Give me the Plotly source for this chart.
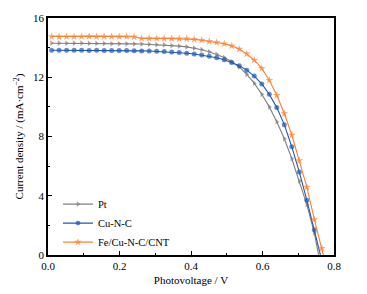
import plotly.graph_objects as go

voltage = [0.010, 0.031, 0.052, 0.073, 0.094, 0.115, 0.136, 0.157, 0.178, 0.199,
           0.220, 0.241, 0.262, 0.283, 0.304, 0.325, 0.346, 0.367, 0.388, 0.409,
           0.430, 0.451, 0.472, 0.493, 0.514, 0.535, 0.556, 0.577, 0.598, 0.619,
           0.640, 0.661, 0.682, 0.703, 0.724, 0.745]

pt_j = [14.30, 14.30, 14.29, 14.30, 14.30, 14.29, 14.28, 14.28, 14.27, 14.27,
        14.26, 14.25, 14.24, 14.22, 14.20, 14.18, 14.14, 14.10, 14.05, 13.97,
        13.86, 13.72, 13.55, 13.33, 13.05, 12.70, 12.20, 11.60, 10.85, 10.00,
        9.00, 7.85, 6.50, 5.00, 3.40, 1.50]
pt_end = (0.757, 0.0)

cu_j = [13.82, 13.82, 13.83, 13.82, 13.82, 13.81, 13.82, 13.81, 13.81, 13.80,
        13.80, 13.79, 13.78, 13.77, 13.75, 13.73, 13.70, 13.67, 13.62, 13.57,
        13.50, 13.42, 13.32, 13.18, 13.00, 12.78, 12.48, 12.08, 11.55, 10.85,
        9.95, 8.80, 7.30, 5.60, 3.70, 1.70]
cu_end = (0.762, 0.0)

fe_j = [14.75, 14.74, 14.75, 14.74, 14.75, 14.76, 14.74, 14.75, 14.75, 14.74,
        14.75, 14.73, 14.62, 14.63, 14.62, 14.62, 14.61, 14.60, 14.60, 14.56,
        14.50, 14.43, 14.35, 14.26, 14.12, 13.90, 13.58, 13.15, 12.60, 11.80,
        10.78, 9.55, 8.10, 6.38, 4.58, 2.40]
fe_last = (0.766, 0.45)
fe_end = (0.770, 0.0)

series_names = ["Pt", "Cu-N-C", "Fe/Cu-N-C/CNT"]
x_ticks = [0.0, 0.2, 0.4, 0.6, 0.8]
x_tick_labels = ["0.0", "0.2", "0.4", "0.6", "0.8"]
y_ticks = [0, 4, 8, 12, 16]

FONT = "Liberation Serif, Times New Roman, serif"
colors = ["#808080", "#1F58B4", "#FF8030"]
symbols = ["triangle-right", "circle", "star"]
msizes = [5, 5, 6]

fig = go.Figure()

data = [
    (voltage + [pt_end[0]], pt_j + [pt_end[1]]),
    (voltage + [cu_end[0]], cu_j + [cu_end[1]]),
    (voltage + [fe_last[0], fe_end[0]], fe_j + [fe_last[1], fe_end[1]]),
]

for i, (xs, ys) in enumerate(data):
    n = len(xs)
    sizes = [msizes[i]] * (n - 1) + [0]
    fig.add_trace(go.Scatter(
        x=xs, y=ys, name=series_names[i], mode="lines+markers",
        line=dict(color=colors[i], width=1.1),
        marker=dict(color=colors[i], symbol=symbols[i], size=sizes,
                    line=dict(width=0)),
        cliponaxis=True,
    ))

axis_common = dict(
    showline=True, linecolor="black", linewidth=1.5, mirror=True,
    ticks="inside", ticklen=4, tickwidth=1, tickcolor="black",
    showgrid=False, zeroline=False, automargin=False,
    tickfont=dict(family=FONT, size=11, color="black"),
)

fig.update_xaxes(
    range=[0, 0.8], tickvals=x_ticks, ticktext=x_tick_labels,
    minor=dict(ticks="inside", ticklen=2, tickcolor="black", dtick=0.1, tick0=0),
    title=dict(text="Photovoltage / V", font=dict(family=FONT, size=11, color="black"), standoff=5),
    **axis_common,
)
fig.update_yaxes(
    range=[0, 16], tickvals=y_ticks,
    minor=dict(ticks="inside", ticklen=2, tickcolor="black", dtick=2, tick0=0),
    title=dict(text="Current density / (mA·cm<sup>−2</sup>)", font=dict(family=FONT, size=11, color="black"), standoff=7),
    **axis_common,
)

# page body adds an 8px margin; size the figure so the plot area lands where the reference has it
fig.update_layout(
    width=359, height=286,
    margin=dict(l=40, r=33, t=10, b=39),
    paper_bgcolor="white", plot_bgcolor="white",
    showlegend=True,
    legend=dict(x=0.035, y=0.276, xanchor="left", yanchor="top",
                bgcolor="rgba(0,0,0,0)", font=dict(family=FONT, size=10.5, color="black"),
                itemwidth=30, tracegroupgap=0),
    font=dict(family=FONT, color="black"),
)

fig.write_html("out.html")
